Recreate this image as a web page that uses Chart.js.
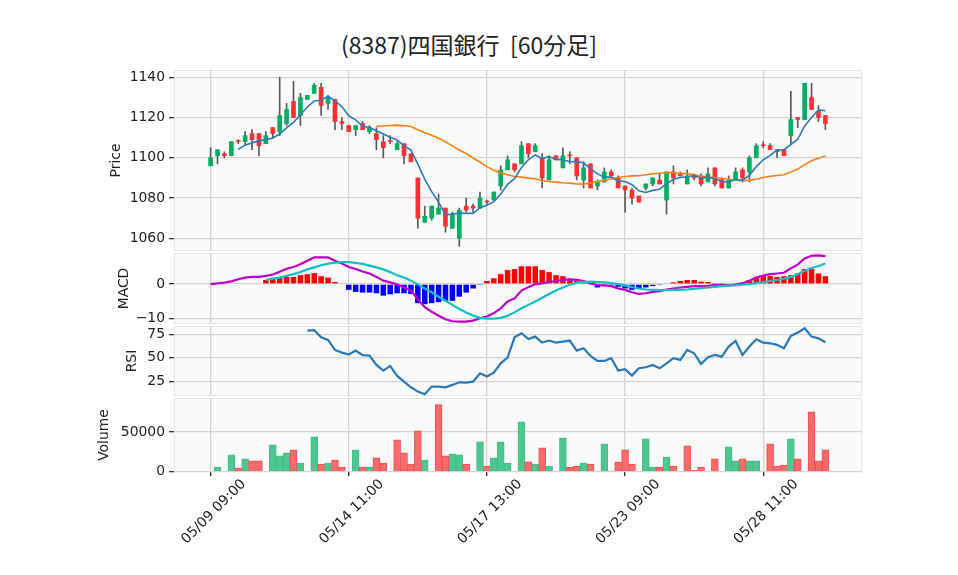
<!DOCTYPE html>
<html>
<head>
<meta charset="utf-8">
<title>(8387)四国銀行 [60分足]</title>
<script src="https://cdn.jsdelivr.net/npm/chart.js@4.4.1/dist/chart.umd.min.js"></script>
<style>
  body { margin: 0; background: #fff; }
  #wrap { position: relative; width: 958px; height: 575px; overflow: hidden; }
  #wrap canvas { position: absolute; left: 0; }
  #title { position: absolute; left: 0; width: 938px; top: 31px; text-align: center;
           font: 23px 'Noto Sans CJK JP', sans-serif; line-height: 27px; color: #222; white-space: pre; }
</style>
</head>
<body>
<div id="wrap">
  <div id="title">(8387)四国銀行  [60分足]</div>
  <canvas id="price" width="958" height="191" style="top:60px"></canvas>
  <canvas id="macd" width="958" height="81" style="top:243px"></canvas>
  <canvas id="rsi" width="958" height="80" style="top:316px"></canvas>
  <canvas id="volume" width="958" height="187" style="top:388px"></canvas>
</div>
<script>
// --- data ---
const days = ['05/09','05/10','05/13','05/14','05/15','05/16','05/17','05/20','05/21','05/22','05/23','05/24','05/27','05/28','05/29'];
const hours = ['09:00','10:00','11:00','12:00','13:00','14:00'];
const xTickIdx = [0, 20, 40, 60, 80];

const opens = [1096,1101,1102,1101,1108,1108,1112,1112,1107,1115, 1113,1117,1128,1121,1129,1132,1135,1127,1129,1118,
  1116,1114,1117,1113,1112,1108,1108,1104,1107,1102, 1090,1068,1070,1072,1075,1065,1060,1076,1076,1075,
  1078,1079,1086,1094,1097,1097,1107,1103,1100,1089, 1101,1095,1101,1100,1089,1097,1086,1088,1093,1090,
  1086,1084,1081,1085,1087,1089,1079,1093,1092,1087, 1091,1090,1088,1095,1089,1085,1089,1094,1093,1100,
  1106,1106,1104,1104,1111,1120,1119,1130,1123,1121];
const highs = [1105,1104,1103,1108,1109,1113,1114,1112,1113,1115, 1140,1127,1138,1132,1131,1137,1137,1131,1129,1120,
  1116,1116,1118,1116,1115,1111,1111,1108,1107,1102, 1090,1076,1076,1082,1075,1073,1075,1080,1077,1083,
  1079,1083,1096,1101,1097,1108,1107,1107,1102,1101, 1101,1105,1103,1100,1098,1097,1089,1095,1094,1091,
  1086,1085,1081,1087,1090,1092,1093,1096,1093,1094, 1092,1092,1095,1095,1090,1091,1095,1095,1101,1107,
  1108,1107,1104,1104,1133,1120,1137,1137,1126,1121];
const lows = [1096,1097,1100,1101,1107,1106,1104,1101,1107,1110, 1111,1116,1120,1116,1129,1132,1121,1124,1114,1114,
  1113,1111,1114,1112,1104,1100,1107,1104,1097,1098, 1065,1068,1069,1072,1063,1065,1056,1073,1073,1075,
  1077,1079,1084,1094,1093,1097,1100,1103,1085,1089, 1099,1095,1097,1089,1085,1085,1084,1088,1091,1085,
  1073,1077,1078,1084,1086,1087,1072,1087,1091,1087, 1089,1086,1088,1086,1085,1085,1089,1088,1088,1100,
  1105,1104,1100,1101,1107,1115,1119,1124,1118,1114];
const closes = [1100,1104,1101,1108,1108,1111,1109,1106,1111,1112, 1121,1124,1120,1130,1131,1136,1126,1130,1118,1117,
  1113,1116,1114,1115,1109,1105,1108,1107,1101,1098, 1070,1071,1076,1075,1066,1072,1074,1074,1075,1080,
  1078,1083,1094,1099,1094,1106,1102,1106,1090,1099, 1099,1101,1101,1091,1095,1085,1088,1093,1091,1085,
  1084,1080,1078,1087,1090,1087,1093,1090,1091,1091, 1090,1087,1092,1087,1085,1089,1093,1090,1100,1106,
  1106,1104,1103,1101,1119,1119,1137,1124,1120,1117];

const ma5 = [null,null,null,null,1104.2,1106.4,1107.4,1108.4,1109.0,1109.8, 1111.8,1114.8,1117.6,1121.4,1125.2,1128.2,1128.6,1130.6,1128.2,1125.4,
  1120.8,1118.8,1115.6,1115.0,1113.4,1111.8,1110.2,1108.8,1106.0,1103.8, 1096.8,1089.4,1083.2,1078.0,1071.6,1072.0,1072.6,1072.4,1072.4,1075.2,
  1076.4,1078.2,1082.0,1086.8,1089.6,1095.2,1099.0,1101.4,1099.6,1100.6, 1099.2,1099.0,1098.0,1098.2,1097.4,1094.6,1092.0,1090.4,1090.4,1088.4,
  1088.2,1086.6,1083.6,1082.8,1083.8,1084.4,1087.0,1089.4,1090.2,1090.6, 1091.2,1090.0,1090.4,1089.6,1088.2,1088.0,1089.2,1088.8,1091.4,1095.6,
  1099.0,1101.2,1103.8,1104.0,1106.6,1109.2,1115.8,1120.0,1123.8,1123.4];
const ma25 = [null,null,null,null,null,null,null,null,null,null, null,null,null,null,null,null,null,null,null,null,
  null,null,null,null,1115.6,1115.8,1116.0,1116.2,1115.9,1115.5, 1113.9,1112.4,1111.2,1109.7,1107.9,1105.9,1103.9,1102.1,1099.9,1097.9,
  1095.6,1093.8,1092.4,1091.6,1090.7,1090.4,1089.9,1089.6,1088.6,1088.2, 1087.9,1087.6,1087.4,1087.0,1086.9,1087.5,1088.2,1088.8,1089.5,1090.2,
  1090.7,1091.0,1091.1,1091.6,1092.0,1092.3,1092.7,1092.6,1092.2,1092.2, 1091.5,1090.9,1090.4,1090.2,1089.7,1089.3,1089.0,1088.5,1088.9,1089.3,
  1090.2,1090.8,1091.2,1091.6,1093.0,1094.4,1096.6,1098.5,1099.8,1100.9];

const macd = [0.0,0.2,0.4,0.8,1.4,1.9,2.1,2.1,2.4,2.8, 3.6,4.5,5.0,5.8,6.8,7.8,7.8,7.8,6.8,6.0,
  5.0,4.4,3.7,3.1,2.1,1.0,0.5,-0.1,-1.0,-1.9, -4.5,-6.8,-8.1,-9.3,-10.3,-10.9,-11.0,-11.0,-10.7,-10.0,
  -9.5,-8.5,-7.1,-5.1,-4.2,-1.9,-0.9,0.0,0.2,0.6, 0.9,1.2,1.4,1.2,0.9,0.2,-0.3,-0.4,-0.6,-1.3,
  -1.7,-2.4,-2.9,-2.7,-2.3,-2.1,-1.6,-1.3,-1.0,-0.8, -0.6,-0.6,-0.5,-0.3,-0.3,-0.4,-0.2,0.2,1.0,1.9,
  2.5,2.9,3.1,3.3,4.6,5.7,7.5,8.3,8.4,8.2];
const signal = [null,null,null,null,null,null,null,null,1.2,1.6, 1.9,2.4,2.9,3.5,4.3,4.9,5.5,6.0,6.3,6.4,
  6.4,6.2,5.9,5.4,4.9,4.3,3.5,2.6,1.9,1.0, -0.1,-1.3,-2.4,-3.7,-4.9,-6.1,-7.3,-8.3,-9.2,-9.9,
  -10.1,-10.1,-9.9,-9.3,-8.3,-7.1,-6.1,-5.1,-4.0,-2.9, -1.9,-1.0,-0.2,0.4,0.6,0.7,0.6,0.5,0.3,0.0,
  -0.4,-0.9,-1.3,-1.6,-1.7,-1.8,-1.8,-1.7,-1.7,-1.6, -1.4,-1.2,-1.0,-0.8,-0.6,-0.5,-0.4,-0.2,0.0,0.3,
  0.6,0.9,1.2,1.6,2.1,2.9,3.9,4.7,5.3,6.0];
const hist = [null,null,null,null,null,null,null,null,1.2,1.7, 1.9,2.1,2.1,2.6,2.9,3.2,2.3,1.9,0.6,-0.2,
  -1.7,-2.3,-2.5,-2.5,-2.7,-3.4,-3.0,-2.7,-2.7,-2.9, -5.6,-5.9,-5.6,-5.3,-4.9,-4.9,-3.7,-2.5,-1.3,-0.1,
  0.9,1.7,2.9,4.1,4.4,5.2,5.2,5.2,4.1,3.5, 2.6,2.3,1.4,1.0,0.6,-0.2,-1.0,-0.6,-0.4,-0.8,
  -1.3,-1.7,-1.5,-1.0,-0.6,-0.3,0.2,0.5,0.9,1.2, 1.2,0.7,0.6,0.3,0.1,-0.1,0.3,0.5,1.2,2.1,
  2.4,2.4,2.1,2.3,2.6,3.1,4.4,4.4,3.1,2.3];

const rsi = [null,null,null,null,null,null,null,null,null,null, null,null,null,null,78.9,79.3,71.8,69.0,58.3,55.5,
  53.4,57.6,52.7,52.3,42.4,36.3,41.3,30.7,24.6,18.6, 14.0,11.2,19.3,19.3,18.6,21.1,23.9,23.6,24.6,33.5,
  30.0,34.2,44.1,50.5,71.8,76.1,70.0,72.5,66.1,68.3, 66.1,67.2,68.3,57.6,60.1,52.0,46.6,46.6,49.5,36.3,
  37.8,31.0,38.8,39.9,42.4,38.8,44.1,49.5,47.7,58.3, 54.8,43.4,50.5,53.0,51.2,61.9,67.9,53.0,61.9,69.7,
  66.1,65.4,63.7,60.1,73.2,76.8,81.4,72.5,70.7,66.5];

const volume = [0,5900,0,21200,4700,16100,13600,13600,0,33900, 19900,23700,27500,11000,0,44100,9700,11000,14800,5900,
  0,27500,5900,5900,17400,11000,0,40300,23700,9700, 51700,14800,0,84700,19900,22500,21200,9700,0,37700,
  7200,17400,37700,11000,0,63100,12300,9700,30100,7200, 0,42800,5900,7200,11000,9700,0,35200,850,12300,
  27500,9700,0,41500,5900,5900,18600,7200,0,32600, 1700,5900,0,16100,0,31400,13600,16100,13600,13600,
  0,35200,7200,8500,41500,16100,0,75800,13600,27500];

const priceTicks = [1060, 1080, 1100, 1120, 1140];
const macdTicks = [-10, 0];
const rsiTicks = [25, 50, 75];
const volTicks = [0, 50000];

// --- chart setup ---
const labels = days.flatMap(d => hours.map(h => d + ' ' + h));
const tickFont = { family: 'DejaVu Sans', size: 13.9 };
const gridColor = '#d4d4d4';
const upColor = '#00b060', downColor = '#fe3032';

function pts(arr) {
    return arr.map((v, i) => ({ x: i, y: v })).filter(p => p.y !== null);
}

const panelPlugin = {
    id: 'panel',
    beforeDraw(chart, args, opts) {
        const a = chart.chartArea, ctx = chart.ctx;
        ctx.save();
        ctx.fillStyle = '#fafafa';
        ctx.fillRect(a.left, a.top, a.right - a.left, a.bottom - a.top);
        ctx.strokeStyle = '#e6e6e6';
        ctx.lineWidth = 1;
        ctx.strokeRect(a.left + 0.5, a.top + 0.5, a.right - a.left - 1, a.bottom - a.top - 1);
        ctx.restore();
    },
    afterDraw(chart, args, opts) {
        const a = chart.chartArea, ctx = chart.ctx;
        ctx.save();
        ctx.translate(opts.labelX, (a.top + a.bottom) / 2);
        ctx.rotate(-Math.PI / 2);
        ctx.textAlign = 'center';
        ctx.textBaseline = 'middle';
        ctx.font = '13.9px "DejaVu Sans"';
        ctx.fillStyle = '#222';
        ctx.fillText(opts.label, 0, 0);
        ctx.restore();
    }
};

function xScale(showLabels) {
    return {
        type: 'linear', min: -5.3, max: 94.3, offset: false,
        afterBuildTicks: s => { s.ticks = xTickIdx.map(v => ({ value: v })); },
        afterFit: s => {
            s.height = showLabels ? 103 : 0;
            s.paddingLeft = 0; s.paddingRight = 0; s.paddingTop = 0; s.paddingBottom = 0;
        },
        grid: { offset: false, color: gridColor, lineWidth: 1.3, drawTicks: showLabels, tickLength: 4, tickColor: '#222' },
        border: { display: false },
        ticks: {
            display: showLabels, autoSkip: false, maxRotation: 45, minRotation: 45,
            font: tickFont, color: '#222', padding: 0, labelOffset: 33,
            callback: v => labels[v]
        }
    };
}

function yScale(min, max, ticks) {
    return {
        min: min, max: max,
        afterBuildTicks: s => { s.ticks = ticks.map(v => ({ value: v })); },
        afterFit: s => {
            s.width = 174;
            s.paddingTop = 0; s.paddingBottom = 0; s.paddingLeft = 0; s.paddingRight = 0;
        },
        grid: { color: gridColor, lineWidth: 1.3, tickLength: 5, tickColor: '#333' },
        border: { display: false },
        ticks: {
            font: tickFont, color: '#222', padding: 4,
            callback: v => (v < 0 ? '\u2212' + Math.abs(v) : String(v))
        }
    };
}

function baseOptions(xs, ys, label, labelX) {
    return {
        responsive: false,
        animation: false,
        events: [],
        layout: { padding: { top: 10, right: 96, left: 0, bottom: 0 } },
        plugins: { legend: { display: false }, tooltip: { enabled: false }, panel: { label: label, labelX: labelX } },
        scales: { x: xs, y: ys }
    };
}

// Price panel: candles + moving averages
new Chart(document.getElementById('price'), {
    type: 'bar',
    data: {
        datasets: [
            {
                type: 'line', data: pts(ma5), borderColor: '#2a7ab8', borderWidth: 1.6,
                pointRadius: 0, tension: 0, order: 0
            },
            {
                type: 'line', data: pts(ma25), borderColor: '#ff7f0e', borderWidth: 1.6,
                pointRadius: 0, tension: 0, order: 0
            },
            {
                data: opens.map((o, i) => ({ x: i, y: [o, closes[i]] })),
                backgroundColor: opens.map((o, i) => closes[i] > o ? upColor : downColor),
                barThickness: 4, minBarLength: 1, grouped: false, order: 1
            },
            {
                data: lows.map((l, i) => ({ x: i, y: [l, highs[i]] })),
                backgroundColor: '#5a5a5a',
                barThickness: 1, grouped: false, order: 2
            }
        ]
    },
    options: baseOptions(xScale(false), yScale(1053.7, 1143.6, priceTicks), 'Price', 116),
    plugins: [panelPlugin]
});

// MACD panel
new Chart(document.getElementById('macd'), {
    type: 'bar',
    data: {
        datasets: [
            {
                type: 'line', data: pts(signal), borderColor: '#10bfc4', borderWidth: 2.2,
                pointRadius: 0, tension: 0, order: 0
            },
            {
                type: 'line', data: pts(macd), borderColor: '#c000c8', borderWidth: 2.2,
                pointRadius: 0, tension: 0, order: 1
            },
            {
                data: pts(hist),
                backgroundColor: hist.filter(v => v !== null).map(v => v >= 0 ? '#ff0000' : '#0000ff'),
                barPercentage: 0.8, categoryPercentage: 1, grouped: false, order: 2
            }
        ]
    },
    options: baseOptions(xScale(false), yScale(-11.7, 9.1, macdTicks), 'MACD', 124),
    plugins: [panelPlugin]
});

// RSI panel
new Chart(document.getElementById('rsi'), {
    type: 'line',
    data: {
        datasets: [{
            data: pts(rsi), borderColor: '#2a7ab8', borderWidth: 2.2, pointRadius: 0, tension: 0
        }]
    },
    options: baseOptions(xScale(false), yScale(9.3, 83.8, rsiTicks), 'RSI', 132),
    plugins: [panelPlugin]
});

// Volume panel
const volUp = closes.map((c, i) => i > 0 && c > closes[i - 1]);
new Chart(document.getElementById('volume'), {
    type: 'bar',
    data: {
        datasets: [{
            data: pts(volume),
            backgroundColor: volUp.map(u => u ? '#4dc790' : '#fd6b6c'),
            borderColor: volUp.map(u => u ? '#45bb86' : '#f24d50'),
            borderWidth: 1,
            barPercentage: 1, categoryPercentage: 1, grouped: false
        }]
    },
    options: baseOptions(xScale(true), yScale(-400, 93150, volTicks), 'Volume', 104),
    plugins: [panelPlugin]
});
</script>
</body>
</html>
